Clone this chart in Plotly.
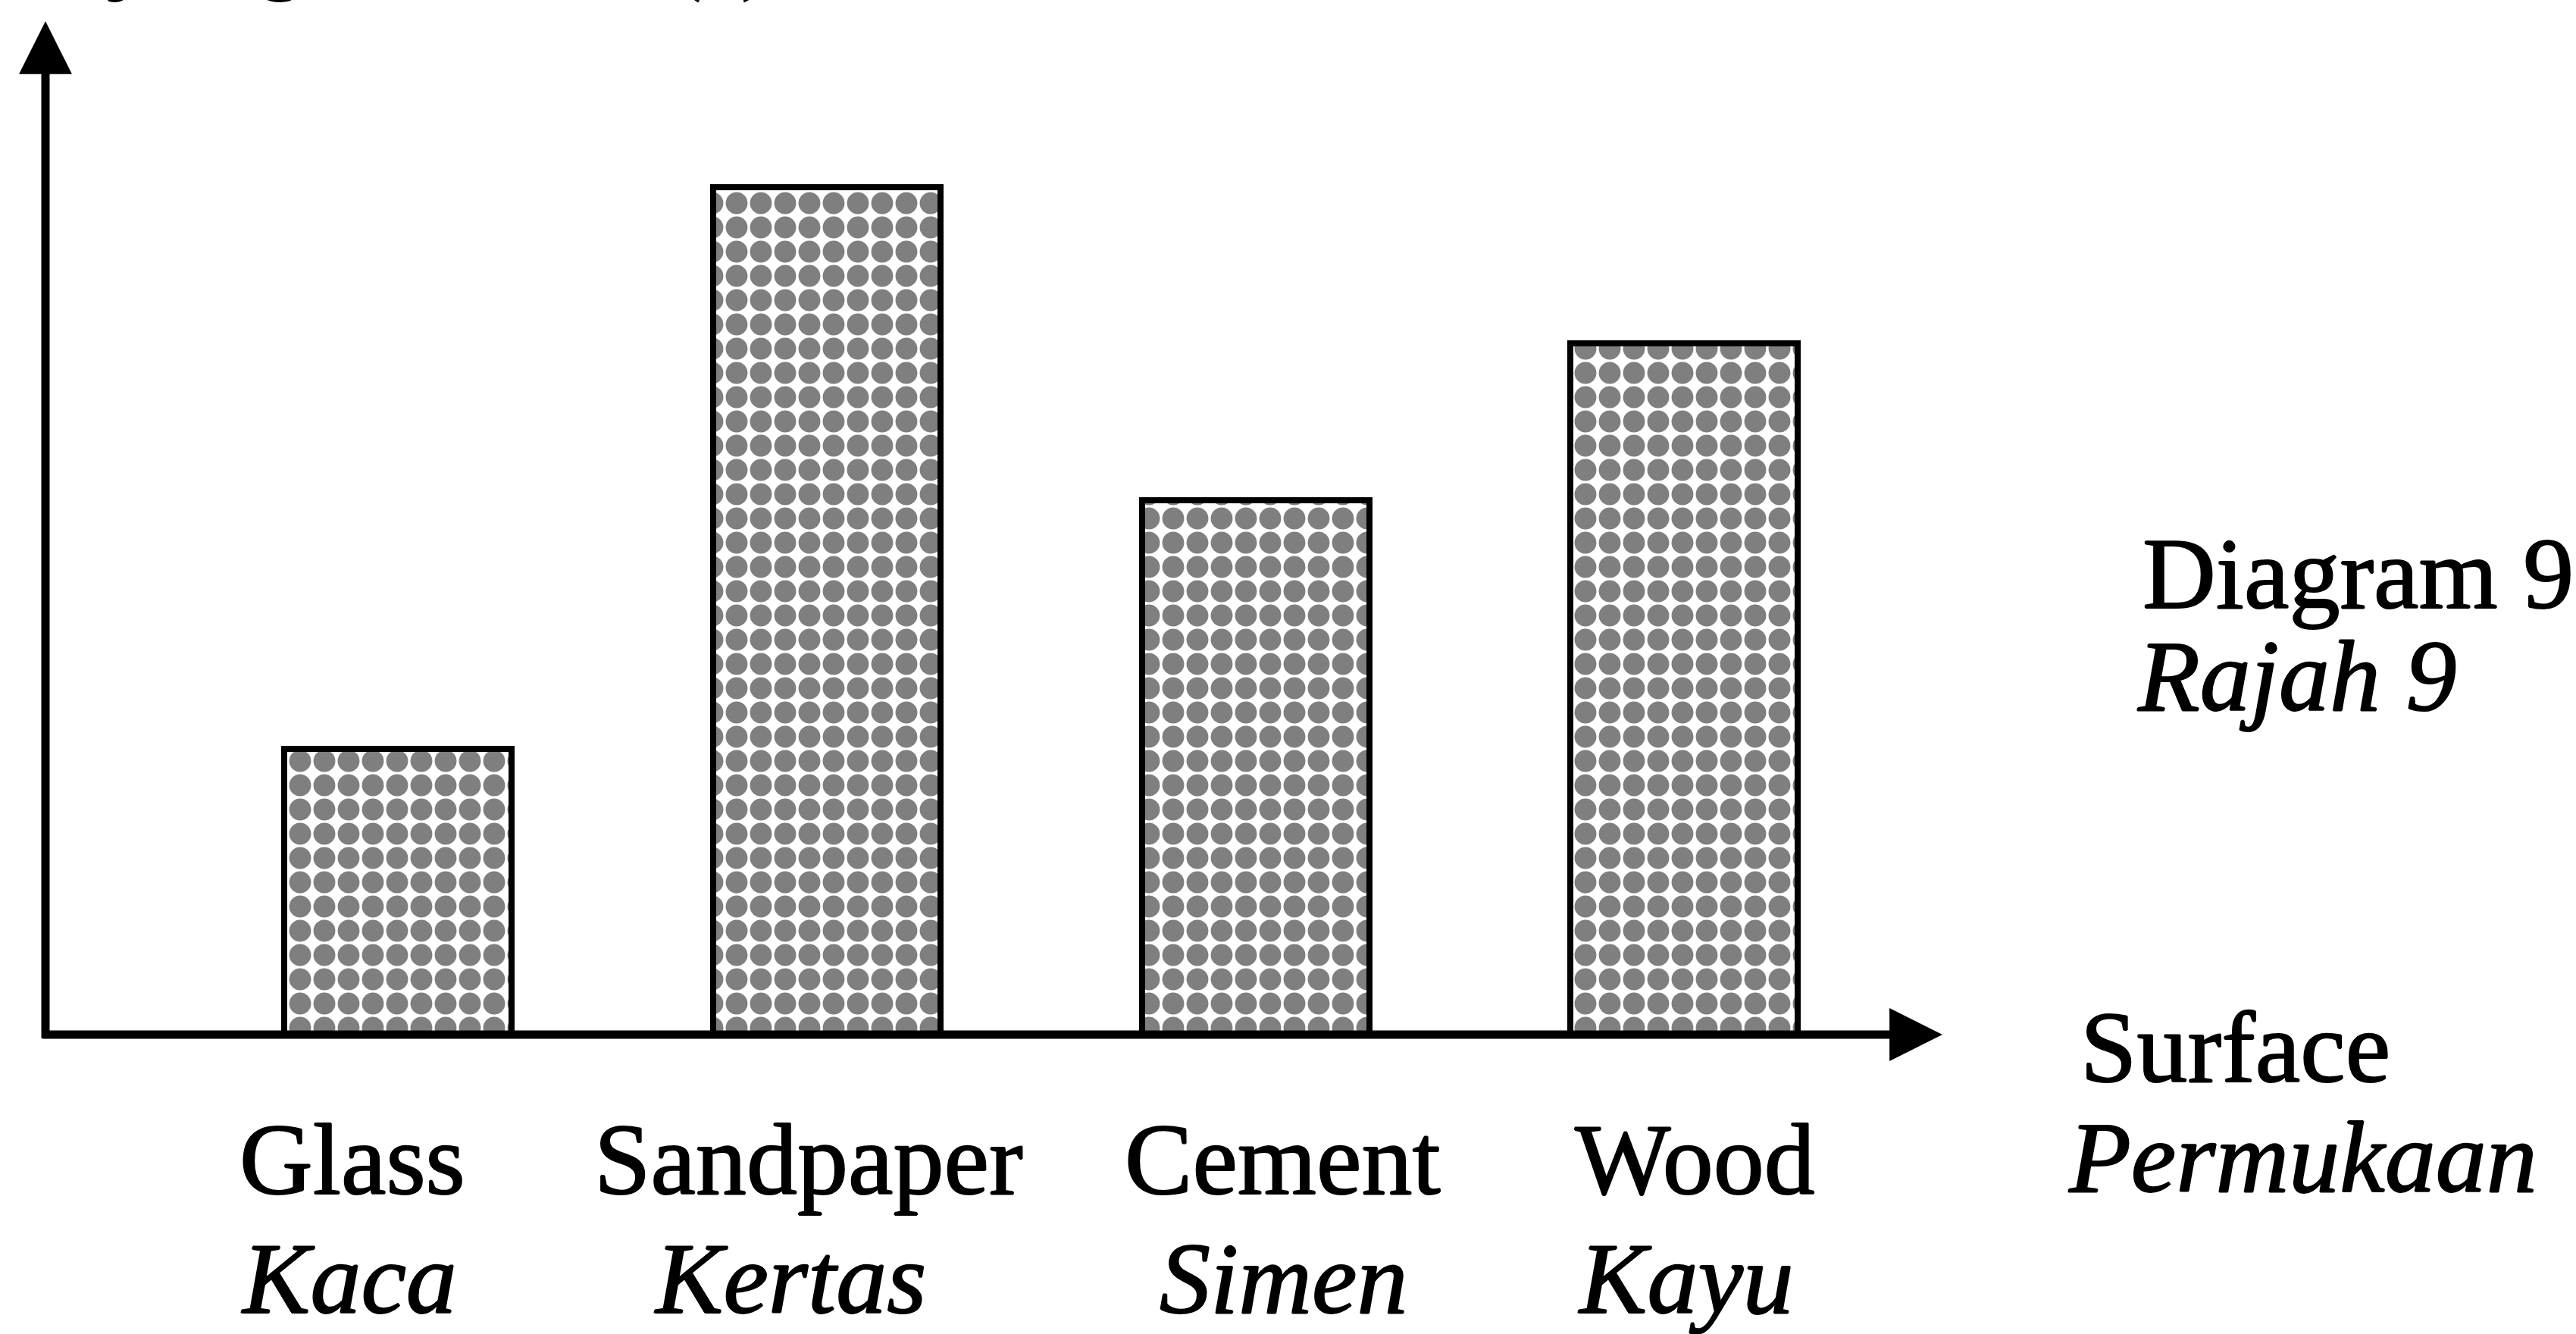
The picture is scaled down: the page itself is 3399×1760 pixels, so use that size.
import plotly.graph_objects as go

# ---------------- data ----------------
categories = ["Glass", "Sandpaper", "Cement", "Wood"]
categories_ms = ["Kaca", "Kertas", "Simen", "Kayu"]
values = [3.37, 10.0, 6.31, 8.16]          # relative heights
y_title_ms = "Masa yang diambil (s)"
x_title = "Surface"
x_title_ms = "Permukaan"
fig_title = "Diagram 9"
fig_title_ms = "Rajah 9"

# ---------------- layout geometry (pixels) ----------------
W, H = 3399, 1760
PX0 = 525.2      # pixel centre of first category
DX = 565.7       # pixels per category
LEFT, RIGHT = 60, 2563
TOP, BOTTOM = 28, 1365
UNIT = 111.8     # pixels per value unit

x_range = [(LEFT - PX0) / DX, (RIGHT - PX0) / DX]
y_range = [0, (BOTTOM - TOP) / UNIT]
FONT = "Liberation Serif"
FS = 134
SHADOW = "1px 0 0 black, -1px 0 0 black, 0 1px 0 black, 0 -1px 0 black"


def tfont():
    return dict(family=FONT, size=FS, color="black", shadow=SHADOW)


xs = list(range(len(categories)))

fig = go.Figure()
fig.add_trace(go.Bar(
    x=xs, y=values, width=0.53,
    marker=dict(
        color="white",
        line=dict(color="black", width=8),
        pattern=dict(shape=".", fgcolor="black", bgcolor="white",
                     size=32, solidity=0.64, fillmode="overlay"),
    ),
    hoverinfo="skip", showlegend=False,
))

ann = []
# y axis with arrow
ann.append(dict(x=x_range[0], y=y_range[1], ax=x_range[0], ay=-6 / UNIT,
                xref="x", yref="y", axref="x", ayref="y", text="", showarrow=True,
                arrowhead=2, arrowsize=1.27, arrowwidth=11, arrowcolor="black"))
# x axis with arrow
ann.append(dict(x=x_range[1], y=0, ax=(LEFT - 6 - PX0) / DX, ay=0,
                xref="x", yref="y", axref="x", ayref="y", text="", showarrow=True,
                arrowhead=2, arrowsize=1.27, arrowwidth=11, arrowcolor="black"))

en_shift = [-60, -24, 36, 14]
ms_shift = [-65, -48, 37, 2]
for i, (en, ms) in enumerate(zip(categories, categories_ms)):
    ann.append(dict(x=xs[i], y=0, xref="x", yref="y", text=en, showarrow=False,
                    xanchor="center", yanchor="middle", xshift=en_shift[i], yshift=-165,
                    font=tfont()))
    ann.append(dict(x=xs[i], y=0, xref="x", yref="y", text="<i>" + ms + "</i>", showarrow=False,
                    xanchor="center", yanchor="middle", xshift=ms_shift[i], yshift=-322,
                    font=tfont()))

# axis titles / diagram caption
side = [
    (x_title, 2743 - RIGHT, -17, False),
    (x_title_ms, 2727 - RIGHT, -162, True),
    (fig_title, 2825 - RIGHT, 608, False),
    (fig_title_ms, 2818 - RIGHT, 473, True),
]
for txt, xsh, ysh, it in side:
    ann.append(dict(x=1, y=0, xref="paper", yref="y", text=("<i>%s</i>" % txt) if it else txt,
                    showarrow=False, xanchor="left", yanchor="middle", xshift=xsh, yshift=ysh,
                    font=tfont()))

# y-axis title, cropped at the very top edge as in the source
ann.append(dict(x=0, y=1, xref="paper", yref="paper", text="<i>" + y_title_ms + "</i>",
                showarrow=False, xanchor="left", yanchor="bottom", xshift=-241, yshift=23,
                font=tfont()))

fig.update_layout(
    width=W, height=H, autosize=False,
    margin=dict(l=LEFT, r=W - RIGHT, t=TOP, b=H - BOTTOM, pad=0),
    paper_bgcolor="white", plot_bgcolor="white",
    xaxis=dict(range=x_range, visible=False, fixedrange=True),
    yaxis=dict(range=y_range, visible=False, fixedrange=True),
    annotations=ann,
    bargap=0,
)

fig.write_html("out.html", config={"displayModeBar": False},
               post_script="document.body.style.margin='0';document.body.style.overflow='hidden';")
